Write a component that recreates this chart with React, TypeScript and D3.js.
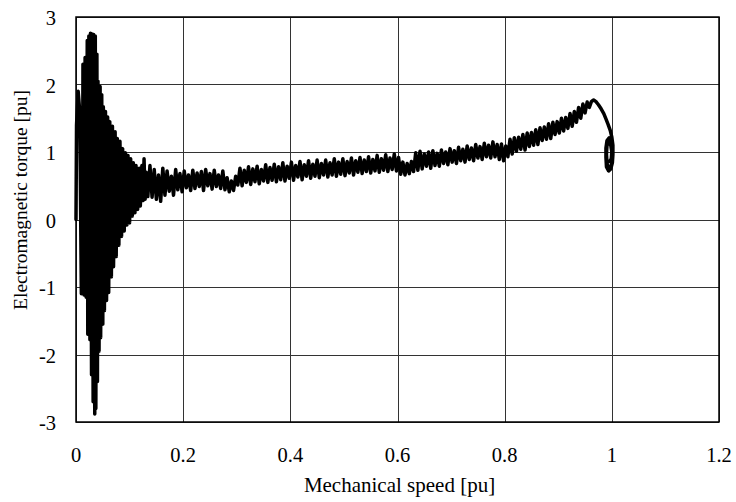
import React, { useEffect, useRef } from 'react';
import * as d3 from 'd3';

const xTicks = [0, 0.2, 0.4, 0.6, 0.8, 1, 1.2];
const yTicks = [-3, -2, -1, 0, 1, 2, 3];
const xTitle = 'Mechanical speed [pu]';
const yTitle = 'Electromagnetic torque [pu]';

// start-up transient: [speed, torque]
const startup: [number, number][] = [
  [0.000, 0.00], [0.001, 1.40], [0.004, 1.90], [0.007, 1.60], [0.010, -1.10],
  [0.012, -0.60], [0.013, 2.30], [0.015, -1.12], [0.017, 2.40], [0.019, -1.15],
  [0.021, 2.65], [0.022, -1.70], [0.024, 2.72], [0.026, -1.78], [0.027, 2.76],
  [0.029, -2.30], [0.030, 2.75], [0.032, -2.70], [0.033, 2.74], [0.035, -2.88],
  [0.036, 2.72], [0.037, -2.80], [0.039, 2.45], [0.040, -2.40], [0.041, 2.05],
  [0.043, -1.95], [0.045, 1.97], [0.046, -1.75], [0.048, 1.85], [0.050, -1.55],
  [0.051, 1.67], [0.053, -1.35], [0.055, 1.60], [0.057, -1.20], [0.059, 1.52],
  [0.061, -1.08], [0.063, 1.45], [0.066, -0.85], [0.068, 1.38], [0.070, -0.70],
  [0.073, 1.30], [0.075, -0.55], [0.077, 1.20], [0.080, -0.38], [0.082, 1.16],
  [0.085, -0.25], [0.087, 1.05], [0.090, -0.17], [0.092, 0.99], [0.095, -0.08],
  [0.097, 0.95], [0.100, -0.05], [0.102, 0.90], [0.105, 0.05], [0.107, 0.84],
  [0.110, 0.10], [0.112, 0.80], [0.115, 0.15], [0.118, 0.76], [0.120, 0.20],
  [0.123, 0.80], [0.125, 0.28], [0.127, 0.90], [0.129, 0.30], [0.131, 0.70],
  [0.134, 0.34],
];

// accelerating run, noisy band
const running: [number, number][] = [
  [0.138, 0.80], [0.142, 0.33], [0.146, 0.74], [0.150, 0.30], [0.154, 0.66],
  [0.158, 0.27], [0.162, 0.76], [0.166, 0.36], [0.170, 0.72], [0.174, 0.42],
  [0.178, 0.64], [0.182, 0.36], [0.186, 0.74], [0.190, 0.44], [0.194, 0.68],
  [0.198, 0.41], [0.202, 0.72], [0.206, 0.47], [0.210, 0.66], [0.214, 0.43],
  [0.218, 0.73], [0.222, 0.46], [0.226, 0.69], [0.230, 0.49], [0.234, 0.71],
  [0.238, 0.43], [0.242, 0.74], [0.246, 0.50], [0.250, 0.68], [0.254, 0.45],
  [0.258, 0.73], [0.262, 0.49], [0.266, 0.66], [0.270, 0.46], [0.274, 0.72],
  [0.278, 0.44], [0.282, 0.62], [0.286, 0.41], [0.290, 0.57], [0.294, 0.43],
  [0.298, 0.64], [0.302, 0.51], [0.306, 0.76], [0.310, 0.50], [0.314, 0.73],
  [0.318, 0.55], [0.322, 0.78], [0.326, 0.52], [0.330, 0.75], [0.334, 0.56],
  [0.338, 0.79], [0.342, 0.53], [0.346, 0.74], [0.350, 0.57], [0.354, 0.81],
  [0.358, 0.55], [0.362, 0.77], [0.366, 0.58], [0.370, 0.82], [0.374, 0.56],
  [0.378, 0.78], [0.382, 0.59], [0.386, 0.84], [0.390, 0.57], [0.394, 0.79],
  [0.398, 0.61], [0.402, 0.85], [0.406, 0.58], [0.410, 0.80], [0.414, 0.63],
  [0.418, 0.86], [0.422, 0.59], [0.426, 0.81], [0.430, 0.64], [0.434, 0.87],
  [0.438, 0.61], [0.442, 0.82], [0.446, 0.64], [0.450, 0.88], [0.454, 0.62],
  [0.458, 0.83], [0.462, 0.66], [0.466, 0.88], [0.470, 0.63], [0.474, 0.84],
  [0.478, 0.66], [0.482, 0.90], [0.486, 0.64], [0.490, 0.85], [0.494, 0.67],
  [0.498, 0.90], [0.502, 0.65], [0.506, 0.86], [0.510, 0.69], [0.514, 0.91],
  [0.518, 0.66], [0.522, 0.87], [0.526, 0.70], [0.530, 0.92], [0.534, 0.68],
  [0.538, 0.88], [0.542, 0.71], [0.546, 0.93], [0.550, 0.69], [0.554, 0.89],
  [0.558, 0.72], [0.562, 0.95], [0.566, 0.70], [0.570, 0.90], [0.574, 0.73],
  [0.578, 0.96], [0.582, 0.71], [0.586, 0.91], [0.590, 0.74], [0.594, 0.97],
  [0.598, 0.72], [0.602, 0.92], [0.606, 0.67], [0.610, 0.85], [0.614, 0.66],
  [0.618, 0.83], [0.622, 0.68], [0.626, 0.86], [0.630, 0.71], [0.634, 0.99],
  [0.638, 0.73], [0.642, 1.01], [0.646, 0.75], [0.650, 0.97], [0.654, 0.79],
  [0.658, 1.00], [0.662, 0.76], [0.666, 1.02], [0.670, 0.80], [0.674, 0.98],
  [0.678, 0.79], [0.682, 1.03], [0.686, 0.83], [0.690, 1.00], [0.694, 0.81],
  [0.698, 1.05], [0.702, 0.85], [0.706, 1.02], [0.710, 0.83], [0.714, 1.07],
  [0.718, 0.87], [0.722, 1.04], [0.726, 0.85], [0.730, 1.09], [0.734, 0.89],
  [0.738, 1.06], [0.742, 0.87], [0.746, 1.11], [0.750, 0.91], [0.754, 1.08],
  [0.758, 0.89], [0.762, 1.13], [0.766, 0.93], [0.770, 1.10], [0.774, 0.91],
  [0.778, 1.15], [0.782, 0.93], [0.786, 1.11], [0.790, 0.89], [0.794, 1.12],
  [0.798, 0.87], [0.802, 1.09], [0.806, 0.93], [0.810, 1.19], [0.814, 0.97],
  [0.818, 1.21], [0.822, 1.01], [0.826, 1.22], [0.830, 1.04], [0.834, 1.26],
  [0.838, 1.03], [0.842, 1.28], [0.846, 1.08], [0.850, 1.29], [0.854, 1.10],
  [0.858, 1.33], [0.862, 1.11], [0.866, 1.36], [0.870, 1.17], [0.874, 1.37],
  [0.878, 1.19], [0.882, 1.42], [0.886, 1.20], [0.890, 1.44], [0.894, 1.26],
  [0.898, 1.45], [0.902, 1.28], [0.906, 1.50], [0.910, 1.31], [0.914, 1.51],
  [0.918, 1.35], [0.922, 1.57], [0.926, 1.38], [0.930, 1.60], [0.934, 1.44],
  [0.938, 1.66], [0.942, 1.50], [0.946, 1.71], [0.950, 1.58], [0.954, 1.74],
  [0.958, 1.66],
];

// pull-out peak and settling loop around synchronous speed
const settling: [number, number][] = [
  [0.962, 1.75], [0.966, 1.77], [0.970, 1.75], [0.975, 1.70], [0.980, 1.64],
  [0.985, 1.57], [0.989, 1.49], [0.993, 1.41], [0.997, 1.32], [1.000, 1.22],
  [1.002, 1.10], [1.002, 0.96], [1.001, 0.84], [0.998, 0.75], [0.994, 0.72],
  [0.990, 0.78], [0.989, 0.92], [0.989, 1.06], [0.991, 1.17], [0.995, 1.21],
  [0.999, 1.16], [1.001, 1.04], [1.001, 0.90], [0.999, 0.79], [0.995, 0.76],
  [0.991, 0.83], [0.990, 0.97], [0.991, 1.10], [0.994, 1.15], [0.998, 1.10],
  [1.000, 1.00], [0.999, 0.90], [0.996, 0.86],
];

function App() {
  const ref = useRef<SVGSVGElement>(null);

  useEffect(() => {
    drawChart();
  }, []);

  function drawChart() {
    const width = 736;
    const height = 502;
    const margin = { top: 17, right: 17, bottom: 80, left: 76 };
    const font = '"Liberation Serif", "Times New Roman", serif';

    const svg = d3.select(ref.current);
    svg.selectAll('*').remove();

    const x = d3.scaleLinear().domain([0, 1.2]).range([margin.left, width - margin.right]);
    const y = d3.scaleLinear().domain([-3, 3]).range([height - margin.bottom, margin.top]);

    // grid lines
    const grid = svg.append('g').attr('stroke', '#333').attr('stroke-width', 1);
    grid.selectAll('.hg')
      .data(yTicks)
      .enter()
      .append('line')
        .attr('x1', x(0))
        .attr('x2', x(1.2))
        .attr('y1', (d) => Math.round(y(d)) + 0.5)
        .attr('y2', (d) => Math.round(y(d)) + 0.5);
    grid.selectAll('.vg')
      .data(xTicks)
      .enter()
      .append('line')
        .attr('y1', y(3))
        .attr('y2', y(-3))
        .attr('x1', (d) => Math.round(x(d)) + 0.5)
        .attr('x2', (d) => Math.round(x(d)) + 0.5);

    // the torque-speed trace
    const line = d3.line<[number, number]>()
      .x((d) => x(d[0]))
      .y((d) => y(d[1]));

    svg.append('path')
      .datum([...startup, ...running, ...settling])
      .attr('d', line)
      .attr('fill', 'none')
      .attr('stroke', 'black')
      .attr('stroke-width', 3.5)
      .attr('stroke-linejoin', 'round')
      .attr('stroke-linecap', 'round');

    // plot frame
    svg.append('rect')
      .attr('x', x(0))
      .attr('y', y(3))
      .attr('width', x(1.2) - x(0))
      .attr('height', y(-3) - y(3))
      .attr('fill', 'none')
      .attr('stroke', 'black')
      .attr('stroke-width', 1.5);

    // tick labels
    svg.append('g')
      .selectAll('text')
      .data(xTicks)
      .enter()
      .append('text')
        .text((d) => String(d))
        .attr('x', (d) => x(d))
        .attr('y', 462)
        .attr('text-anchor', 'middle')
        .style('font-family', font)
        .style('font-size', '20.5px');

    svg.append('g')
      .selectAll('text')
      .data(yTicks)
      .enter()
      .append('text')
        .text((d) => String(d))
        .attr('x', 56)
        .attr('y', (d) => y(d) + 8)
        .attr('text-anchor', 'end')
        .style('font-family', font)
        .style('font-size', '20.5px');

    // axis titles
    svg.append('text')
      .text(xTitle)
      .attr('x', (x(0) + x(1.2)) / 2 + 2)
      .attr('y', 492)
      .attr('text-anchor', 'middle')
      .style('font-family', font)
      .style('font-size', '21px');

    svg.append('text')
      .text(yTitle)
      .attr('transform', `translate(27, 200) rotate(-90)`)
      .attr('text-anchor', 'middle')
      .style('font-family', font)
      .style('font-size', '19.5px');
  }

  return (
    <svg
      ref={ref}
      width={736}
      height={502}
      style={{ position: 'absolute', left: 0, top: 0, background: 'white' }}
    />
  );
}

export default App;
